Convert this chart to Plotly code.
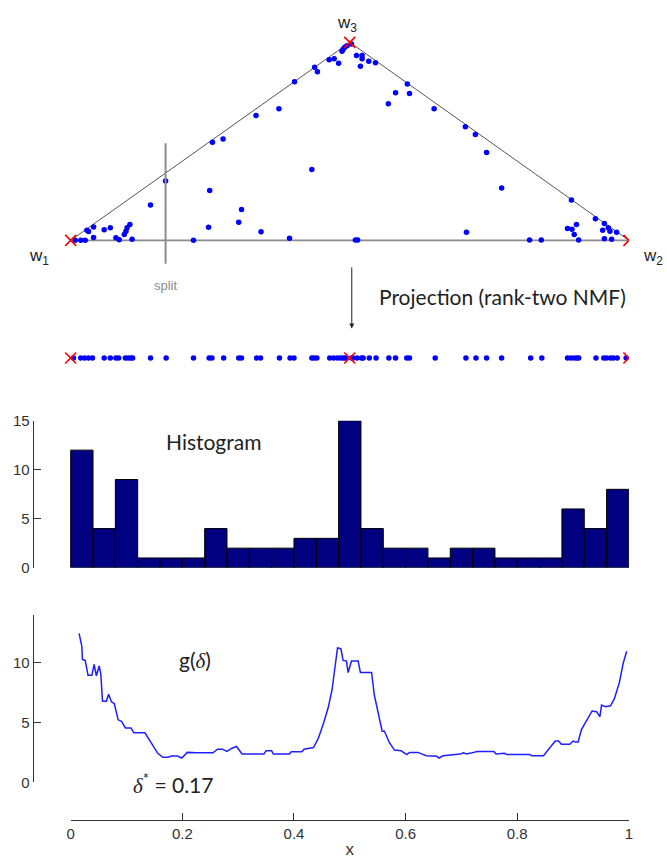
import numpy as np
import plotly.graph_objects as go

# ---------------- data ----------------
vertex_x = [0.0, 1.0, 0.5]
vertex_y = [0.0, 0.0, 1.0]
vertex_labels = ["w<sub>1</sub>", "w<sub>2</sub>", "w<sub>3</sub>"]

tri_x = [0.008, 0.018, 0.026, 0.029, 0.032, 0.041, 0.041, 0.060, 0.071, 0.081, 0.087, 0.096,
         0.099, 0.101, 0.106, 0.110, 0.143, 0.170, 0.220, 0.247, 0.249, 0.254, 0.273, 0.301,
         0.306, 0.332, 0.341, 0.373, 0.392, 0.401, 0.432, 0.437, 0.442, 0.463, 0.472, 0.480,
         0.486, 0.488, 0.491, 0.495, 0.503, 0.510, 0.514, 0.512, 0.522, 0.522, 0.519, 0.534,
         0.546, 0.569, 0.582, 0.603, 0.607, 0.651, 0.707, 0.709, 0.725, 0.745, 0.772, 0.822,
         0.843, 0.890, 0.898, 0.906, 0.902, 0.910, 0.897, 0.940, 0.956, 0.963, 0.966, 0.953,
         0.956, 0.969, 0.978]
tri_y = [0.0, 0.0, 0.0, 0.051, 0.045, 0.068, 0.015, 0.053, 0.063, 0.013, 0.003, 0.030,
         0.046, 0.063, 0.080, 0.005, 0.179, 0.300, 0.001, 0.066, 0.252, 0.496, 0.512, 0.091,
         0.156, 0.630, 0.043, 0.665, 0.010, 0.801, 0.358, 0.874, 0.852, 0.912, 0.917, 0.894,
         0.955, 0.965, 0.975, 0.983, 0.991, 0.002, 0.002, 0.934, 0.934, 0.917, 0.879, 0.904,
         0.897, 0.690, 0.746, 0.789, 0.741, 0.665, 0.574, 0.041, 0.534, 0.444, 0.264, 0.002,
         0.002, 0.060, 0.056, 0.080, 0.030, 0.002, 0.204, 0.109, 0.085, 0.063, 0.046, 0.051,
         0.008, 0.005, 0.041]

proj_x = [0.005, 0.018, 0.025, 0.032, 0.039, 0.060, 0.071, 0.081, 0.086, 0.098, 0.103,
          0.108, 0.111, 0.143, 0.171, 0.220, 0.248, 0.253, 0.274, 0.301, 0.306, 0.333,
          0.340, 0.374, 0.393, 0.400, 0.432, 0.436, 0.441, 0.464, 0.471, 0.478, 0.484,
          0.489, 0.492, 0.503, 0.506, 0.513, 0.521, 0.524, 0.535, 0.547, 0.570, 0.582,
          0.602, 0.607, 0.653, 0.708, 0.726, 0.745, 0.772, 0.824, 0.844, 0.890, 0.896,
          0.902, 0.907, 0.910, 0.941, 0.955, 0.960, 0.967, 0.972, 0.979, 0.995]

hist_counts = [12, 4, 9, 1, 1, 1, 4, 2, 2, 2, 3, 3, 15, 4, 2, 2, 1, 2, 2, 1, 1, 1, 6, 4, 8]

g_x = [0.015, 0.020, 0.021, 0.026, 0.031, 0.038, 0.042, 0.046, 0.051, 0.054, 0.057, 0.064,
       0.068, 0.073, 0.078, 0.085, 0.091, 0.098, 0.108, 0.113, 0.133, 0.138, 0.146, 0.150,
       0.156, 0.165, 0.174, 0.181, 0.191, 0.199, 0.209, 0.225, 0.255, 0.263, 0.272, 0.280,
       0.289, 0.297, 0.307, 0.346, 0.350, 0.360, 0.363, 0.392, 0.395, 0.414, 0.418, 0.435,
       0.444, 0.453, 0.461, 0.468, 0.474, 0.478, 0.484, 0.488, 0.494, 0.497, 0.503, 0.515,
       0.519, 0.539, 0.544, 0.552, 0.558, 0.562, 0.571, 0.580, 0.592, 0.602, 0.607, 0.622,
       0.637, 0.656, 0.660, 0.667, 0.679, 0.698, 0.704, 0.709, 0.717, 0.728, 0.758, 0.762,
       0.777, 0.781, 0.822, 0.826, 0.847, 0.856, 0.868, 0.874, 0.879, 0.894, 0.900, 0.904,
       0.909, 0.915, 0.924, 0.934, 0.942, 0.948, 0.951, 0.958, 0.967, 0.974, 0.983, 0.990,
       0.996]
g_y = [12.45, 11.36, 10.27, 10.19, 8.96, 8.96, 9.86, 8.91, 9.73, 9.05, 6.78, 6.78,
       7.36, 6.73, 6.59, 5.23, 5.10, 4.55, 4.55, 4.14, 4.14, 3.79, 3.13, 2.92,
       2.43, 2.10, 2.10, 2.21, 2.21, 2.04, 2.51, 2.48, 2.48, 2.78, 2.78, 2.59,
       2.86, 3.00, 2.37, 2.37, 2.64, 2.64, 2.37, 2.37, 2.56, 2.56, 2.78, 2.92,
       3.73, 4.96, 6.19, 7.68, 9.73, 11.23, 11.17, 10.19, 10.14, 9.18, 10.14, 10.14,
       9.18, 9.18, 7.28, 5.64, 4.28, 4.28, 3.32, 2.70, 2.64, 2.32, 2.51, 2.51,
       2.23, 2.18, 2.04, 2.23, 2.29, 2.37, 2.48, 2.37, 2.45, 2.59, 2.59, 2.37,
       2.43, 2.34, 2.34, 2.23, 2.23, 2.78, 3.46, 3.46, 3.19, 3.19, 3.46, 3.38,
       3.38, 4.41, 5.10, 5.97, 5.91, 5.50, 6.46, 6.32, 6.40, 7.00, 8.37, 10.00,
       10.95]

split_value = 0.17
x_ticks = [0, 0.2, 0.4, 0.6, 0.8, 1]
x_ticktext = ["0", "0.2", "0.4", "0.6", "0.8", "1"]

# ---------------- geometry helpers ----------------
W, H = 667, 862
X0PX, X1PX = 67.5, 632.5          # data 0 and 1 in pixels
PXU = X1PX - X0PX
YAXPX = 30                        # pixel column of the y axis lines
def px2x(p): return (p - X0PX) / PXU
def pyt(p): return (236 - p) / 202.0   # top-panel data y from pixel
def pap_y(p): return 1 - p / H
def pap_x(p): return p / W

BLUE = "#0000ff"
TICKFONT = dict(family="Liberation Sans, Arial", size=15, color="#333333")
CAL = "Lato, Open Sans, sans-serif"
TXT = "#222222"

fig = go.Figure()

# triangle edges
fig.add_trace(go.Scatter(x=[vertex_x[0], vertex_x[1]], y=[vertex_y[0], vertex_y[1]],
                         mode="lines", line=dict(color="#8c8c8c", width=1.6),
                         xaxis="x", yaxis="y", hoverinfo="skip", showlegend=False))
fig.add_trace(go.Scatter(x=[vertex_x[0], vertex_x[2], vertex_x[1]],
                         y=[vertex_y[0], vertex_y[2], vertex_y[1]],
                         mode="lines", line=dict(color="#555555", width=1),
                         xaxis="x", yaxis="y", hoverinfo="skip", showlegend=False))
# triangle points
fig.add_trace(go.Scatter(x=tri_x, y=tri_y, mode="markers",
                         marker=dict(color=BLUE, size=5.5),
                         xaxis="x", yaxis="y", showlegend=False))
# projected points
proj_y = pyt(356)
fig.add_trace(go.Scatter(x=proj_x, y=[proj_y] * len(proj_x), mode="markers",
                         marker=dict(color=BLUE, size=5.5),
                         xaxis="x", yaxis="y", showlegend=False))
# vertex crosses
xmark = dict(symbol="x-thin", size=11, color="red", line=dict(color="red", width=1.6))
fig.add_trace(go.Scatter(x=vertex_x, y=vertex_y, mode="markers", marker=xmark,
                         xaxis="x", yaxis="y", showlegend=False))
fig.add_trace(go.Scatter(x=vertex_x, y=[proj_y] * len(vertex_x), mode="markers", marker=xmark,
                         xaxis="x", yaxis="y", showlegend=False))

# histogram
nb = len(hist_counts)
centers = (np.arange(nb) + 0.5) / nb
fig.add_trace(go.Bar(x=centers, y=hist_counts, width=1.0 / nb,
                     marker=dict(color="#000080", line=dict(color="black", width=1)),
                     xaxis="x2", yaxis="y2", showlegend=False))

# g(delta) curve
fig.add_trace(go.Scatter(x=g_x, y=g_y, mode="lines",
                         line=dict(color="#1f1fff", width=1.5),
                         xaxis="x3", yaxis="y3", showlegend=False))

# empty trace so that the separate x-axis subplot is drawn
fig.add_trace(go.Scatter(x=[], y=[], mode="markers", xaxis="x4", yaxis="y4",
                         showlegend=False, hoverinfo="skip"))

xdom = [pap_x(YAXPX), pap_x(X1PX)]
xrng = [px2x(YAXPX), px2x(X1PX)]
hidden = dict(visible=False, showgrid=False, zeroline=False)
yax_common = dict(showline=True, linecolor="#333333", linewidth=1, ticks="inside",
                  ticklen=7, tickcolor="#333333", showgrid=False, zeroline=False,
                  tickfont=TICKFONT, fixedrange=True)

fig.update_layout(
    width=W, height=H, margin=dict(l=0, r=0, t=0, b=0),
    paper_bgcolor="white", plot_bgcolor="white", showlegend=False,
    xaxis=dict(domain=xdom, range=xrng, anchor="y", **hidden),
    yaxis=dict(domain=[pap_y(380), 1], range=[pyt(380), pyt(0)], anchor="x", **hidden),
    xaxis2=dict(domain=xdom, range=xrng, anchor="y2", **hidden),
    yaxis2=dict(domain=[pap_y(570), pap_y(420)], range=[0, 15], anchor="x2",
                tickvals=[0, 5, 10, 15], **yax_common),
    xaxis3=dict(domain=xdom, range=xrng, anchor="y3", **hidden),
    yaxis3=dict(domain=[pap_y(789), pap_y(618)], range=[0, 14], anchor="x3",
                tickvals=[0, 5, 10, 14], ticktext=["0", "5", "10", ""], **yax_common),
    xaxis4=dict(domain=[pap_x(X0PX), pap_x(X1PX)], range=[0, 1], anchor="y4",
                showline=True, linecolor="#333333", linewidth=1, ticks="inside",
                ticklen=7, tickcolor="#333333", tickvals=x_ticks, ticktext=x_ticktext,
                showgrid=False, zeroline=False, tickfont=TICKFONT,
                title=dict(text="x", font=dict(family="Liberation Sans, Arial", size=17,
                                               color="#333333"), standoff=2)),
    yaxis4=dict(domain=[pap_y(827), pap_y(817)], range=[0, 1], anchor="x4", **hidden),
)

# split line
fig.add_shape(type="line", xref="x", yref="y", x0=split_value, x1=split_value,
              y0=pyt(137), y1=pyt(260), line=dict(color="#8c8c8c", width=2))

def note(px, py, text, font, xanchor="center"):
    return dict(x=pap_x(px), y=pap_y(py), xref="paper", yref="paper", text=text,
                xanchor=xanchor, yanchor="middle", showarrow=False, font=font)

ann = []
ann.append(note(164, 282, "split",
                dict(family="Liberation Sans, Arial", size=13, color="#8c8c8c")))
# vertex labels (centre of the whole label incl. subscript)
lab_pos = [(35, 253), (657, 253), (347, 15)]
for (lx, ly), t in zip(lab_pos, vertex_labels):
    ann.append(note(lx, ly, t, dict(family="Liberation Sans, Arial", size=17, color=TXT)))
# arrow
ann.append(dict(x=px2x(352), y=pyt(326), xref="x", yref="y", ax=px2x(352), ay=pyt(262),
                axref="x", ayref="y", text="", showarrow=True, arrowhead=2,
                arrowsize=1, arrowwidth=1, arrowcolor=TXT))
ann.append(note(378, 293, "Projection (rank-two NMF)",
                dict(family=CAL, size=21, color=TXT), xanchor="left"))
ann.append(note(212, 441, "Histogram", dict(family=CAL, size=21, color=TXT)))
DELTA = "<span style=\"font-family:'Liberation Serif'\"><i>δ</i></span>"
ann.append(note(193, 664, "g(" + DELTA + ")", dict(family=CAL, size=21, color=TXT)))
ann.append(note(171, 790, DELTA + "<sup>*</sup> = %.2f" % split_value,
                dict(family=CAL, size=21, color=TXT)))
fig.update_layout(annotations=ann)

fig.write_html("out.html")
